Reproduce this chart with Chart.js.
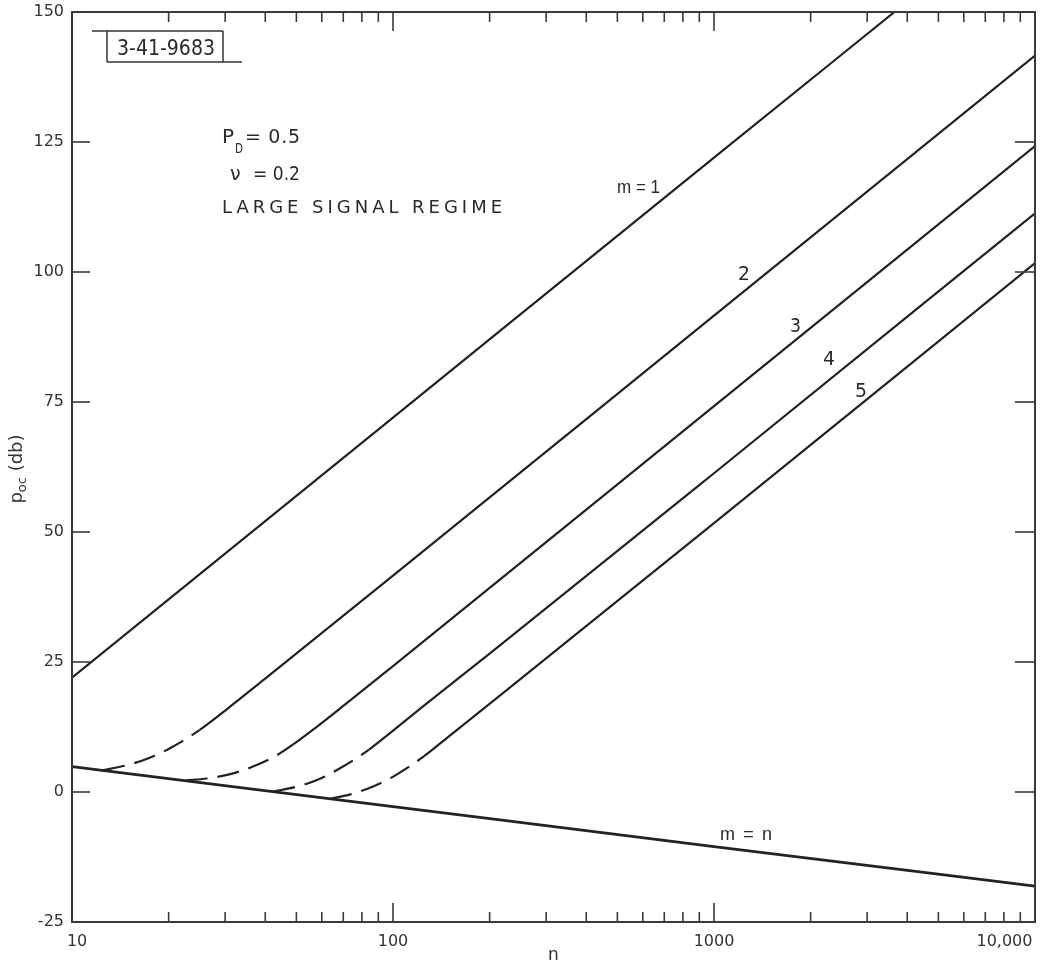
<!DOCTYPE html>
<html>
<head>
<meta charset="utf-8">
<script src="https://cdn.jsdelivr.net/npm/chart.js@4.4.0/dist/chart.umd.min.js"></script>
<style>
html, body { margin:0; padding:0; background:#fff; }
</style>
</head>
<body>
<canvas id="graf" width="1040" height="971"></canvas>
<script>
// axis ticks
var nTicks = [10,20,30,40,50,60,70,80,90,100,200,300,400,500,600,700,800,900,
              1000,2000,3000,4000,5000,6000,7000,8000,9000,10000];
var nMajor = [100,1000];
var nLabelVals = [10,100,1000,10000];
var nLabelText = ['10','100','1000','10,000'];
var pTicks = [-25,0,25,50,75,100,125,150];

// m = n
var mnN = [10, 100, 1000, 10000];
var mnP = [4.9, -2.8, -10.5, -18.1];
// m = 1
var m1N = [10, 100, 1000, 3650];
var m1P = [22, 72, 122, 150];
// m = 2 (dashed up to knee)
var m2N = [12.5, 14.8, 17.4, 20.4, 25, 30.2, 39.8, 100, 1000, 10000];
var m2P = [4.2, 5.15, 6.55, 8.55, 11.95, 15.8, 21.7, 41.6, 91.6, 141.6];
var m2Knee = 25;
// m = 3
var m3N = [22.6, 26.3, 30.9, 36.3, 42.7, 49, 57.5, 70.8, 100, 1000, 10000];
var m3P = [2.2, 2.6, 3.4, 4.8, 6.8, 9.2, 12.4, 16.8, 24.2, 74.2, 124.2];
var m3Knee = 49;
// m = 4
var m4N = [42.4, 50, 59, 69, 84, 95.5, 126, 200, 1000, 10000];
var m4P = [0.1, 1.0, 2.5, 4.7, 8.1, 10.8, 16.8, 26.6, 61.3, 111.3];
var m4Knee = 84;
// m = 5
var m5N = [63.7, 74.1, 87.1, 102.3, 125, 151.4, 224, 1000, 10000];
var m5P = [-1.3, -0.4, 1.1, 3.3, 6.9, 11.0, 19.4, 51.7, 101.7];
var m5Knee = 125;

var FONT = "'DejaVu Sans', sans-serif";
var FONT2 = "'Liberation Sans', sans-serif";
var INK = '#222';

function pts(ns, ps){
	var out = [];
	for (var i = 0; i < ns.length; i++) out.push({x: ns[i], y: ps[i]});
	return out;
}

function courbe(ns, ps, knee, width){
	return {
		data: pts(ns, ps),
		borderColor: INK,
		borderWidth: width || 2.2,
		pointRadius: 0,
		fill: false,
		cubicInterpolationMode: 'monotone',
		segment: {
			borderDash: function(c){ return (knee && c.p1.parsed.x <= knee) ? [22, 10] : undefined; }
		}
	};
}

// squeeze or spread a text to a given width
function fitText(ctx, txt, x, y, w, size, fam){
	ctx.save();
	ctx.font = size + 'px ' + (fam || FONT);
	ctx.letterSpacing = '0px';
	var m = ctx.measureText(txt).width;
	if (m > w) {
		ctx.translate(x, y);
		ctx.scale(w / m, 1);
		ctx.fillText(txt, 0, 0);
	} else {
		ctx.letterSpacing = ((w - m) / Math.max(txt.length - 1, 1)) + 'px';
		ctx.fillText(txt, x, y);
	}
	ctx.restore();
}

function seg(ctx, x1, y1, x2, y2){
	ctx.beginPath(); ctx.moveTo(x1, y1); ctx.lineTo(x2, y2); ctx.stroke();
}

var decor = {
	id: 'decor',
	afterDraw: function(chart){
		var ctx = chart.ctx, a = chart.chartArea;
		var sx = chart.scales.x, sy = chart.scales.y;
		ctx.save();
		ctx.strokeStyle = '#3a3a3a';
		ctx.lineWidth = 2;
		ctx.strokeRect(a.left, a.top, a.right - a.left, a.bottom - a.top);

		// inward ticks
		ctx.lineWidth = 1.6;
		sx.ticks.forEach(function(t){
			var x = sx.getPixelForValue(t.value);
			var len = nMajor.indexOf(t.value) >= 0 ? 19 : 10;
			seg(ctx, x, a.bottom, x, a.bottom - len);
			seg(ctx, x, a.top, x, a.top + len);
		});
		sy.ticks.forEach(function(t){
			var y = sy.getPixelForValue(t.value);
			seg(ctx, a.left, y, a.left + 18, y);
			seg(ctx, a.right, y, a.right - 20, y);
		});

		// id box
		ctx.lineWidth = 1.5;
		ctx.strokeStyle = '#333';
		seg(ctx, 92, 31, 223, 31);
		seg(ctx, 107, 31, 107, 62);
		seg(ctx, 223, 31, 223, 62);
		seg(ctx, 107, 62, 242, 62);

		ctx.fillStyle = '#2a2a2a';
		ctx.textBaseline = 'alphabetic';
		ctx.textAlign = 'left';
		fitText(ctx, '3-41-9683', 117, 55, 98, 22);

		fitText(ctx, 'P', 222, 143, 13, 20);
		fitText(ctx, 'D', 235, 153, 8, 14);
		fitText(ctx, '= 0.5', 245, 143, 55, 19);
		fitText(ctx, '\u03bd', 230, 180, 12, 19);
		fitText(ctx, '= 0.2', 253, 180, 47, 19);
		fitText(ctx, 'LARGE SIGNAL REGIME', 222, 213, 280, 18);

		fitText(ctx, 'm = 1', 617, 193, 43, 18, FONT2);
		fitText(ctx, '2', 738, 280, 12, 20);
		fitText(ctx, '3', 790, 332, 11, 20);
		fitText(ctx, '4', 823, 365, 12, 20);
		fitText(ctx, '5', 855, 397, 12, 20);
		fitText(ctx, 'm = n', 720, 840, 52, 18, FONT2);

		// y title with subscript
		ctx.fillStyle = '#333';
		ctx.translate(22, 469);
		ctx.rotate(-Math.PI / 2);
		ctx.font = '18px ' + FONT;
		var w1 = ctx.measureText('p').width;
		ctx.font = '13px ' + FONT;
		var w2 = ctx.measureText('oc').width;
		ctx.font = '18px ' + FONT;
		var w3 = ctx.measureText(' (db)').width;
		var x0 = -(w1 + w2 + w3) / 2;
		ctx.fillText('p', x0, 0);
		ctx.font = '13px ' + FONT;
		ctx.fillText('oc', x0 + w1, 4);
		ctx.font = '18px ' + FONT;
		ctx.fillText(' (db)', x0 + w1 + w2, 0);
		ctx.restore();
	}
};

var ctx = document.getElementById('graf').getContext('2d');
var myChart = new Chart(ctx, {
	type: 'line',
	data: {
		datasets: [
			courbe(mnN, mnP, 0, 2.8),
			courbe(m1N, m1P, 0),
			courbe(m2N, m2P, m2Knee),
			courbe(m3N, m3P, m3Knee),
			courbe(m4N, m4P, m4Knee),
			courbe(m5N, m5P, m5Knee)
		]
	},
	plugins: [decor],
	options: {
		responsive: false,
		animation: false,
		devicePixelRatio: 1,
		layout: { padding: { top: 12, right: 5, left: 0, bottom: 0 } },
		plugins: { legend: { display: false }, tooltip: { enabled: false } },
		scales: {
			x: {
				type: 'logarithmic',
				min: 10,
				max: 10000,
				afterBuildTicks: function(s){
					s.ticks = nTicks.map(function(v){ return {value: v}; });
				},
				afterFit: function(s){
					s.height = 49; s.paddingLeft = 0; s.paddingRight = 0;
				},
				grid: { display: false, drawTicks: false },
				border: { display: false },
				ticks: {
					autoSkip: false,
					maxRotation: 0,
					padding: 10,
					color: '#333',
					font: { family: FONT, size: 16 },
					callback: function(v){
						var i = nLabelVals.indexOf(v);
						if (i < 0) return '';
						var t = nLabelText[i];
						if (i == 0) return '\u2007' + t;
						if (i == nLabelVals.length - 1) return t + '\u2007\u2007\u2007\u2007\u2007\u2007';
						return t;
					}
				},
				title: {
					display: true, text: 'n', color: '#333',
					font: { family: FONT, size: 17 },
					padding: { top: 0, bottom: 5 }
				}
			},
			y: {
				min: -25,
				max: 150,
				afterBuildTicks: function(s){
					s.ticks = pTicks.map(function(v){ return {value: v}; });
				},
				afterFit: function(s){
					s.width = 72; s.paddingTop = 0; s.paddingBottom = 0;
				},
				grid: { display: false, drawTicks: false },
				border: { display: false },
				ticks: {
					padding: 8,
					color: '#333',
					font: { family: FONT, size: 16 }
				}
			}
		}
	}
});
</script>
</body>
</html>
